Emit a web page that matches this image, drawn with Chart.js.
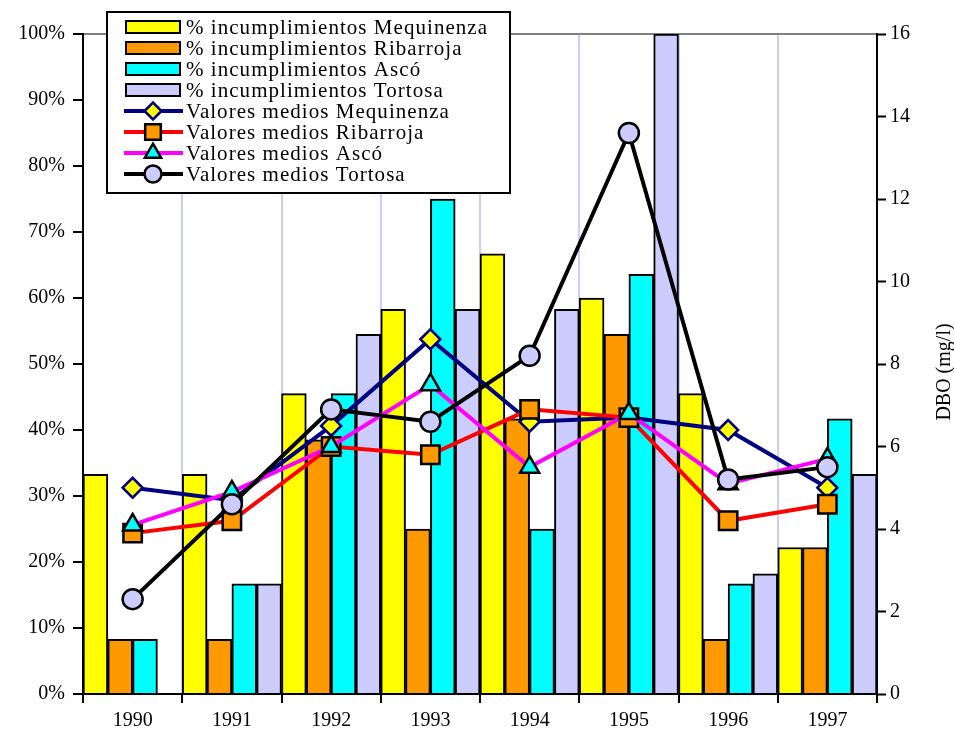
<!DOCTYPE html>
<html>
<head>
<meta charset="utf-8">
<script src="https://cdn.jsdelivr.net/npm/chart.js@4.4.1/dist/chart.umd.min.js"></script>
<style>
  html, body { margin: 0; padding: 0; background: #fff; }
  #wrap { width: 954px; height: 742px; }
</style>
</head>
<body>
<div id="wrap"><canvas id="chart"></canvas></div>
<script>
// Categorías (años)
const years = ['1990', '1991', '1992', '1993', '1994', '1995', '1996', '1997'];

// % incumplimientos (eje izquierdo)
const pctMequinenza = [33.3, 33.3, 45.5, 58.3, 66.7, 60.0, 45.5, 22.2];
const pctRibarroja  = [8.3, 8.3, 38.5, 25.0, 41.7, 54.5, 8.3, 22.2];
const pctAsco       = [8.3, 16.7, 45.5, 75.0, 25.0, 63.6, 16.7, 41.7];
const pctTortosa    = [0, 16.7, 54.5, 58.3, 58.3, 100, 18.2, 33.3];

// Valores medios DBO mg/l (eje derecho)
const dboMequinenza = [5.0, 4.7, 6.5, 8.6, 6.6, 6.7, 6.4, 5.0];
const dboRibarroja  = [3.9, 4.2, 6.0, 5.8, 6.9, 6.7, 4.2, 4.6];
const dboAsco       = [4.1, 4.9, 6.0, 7.5, 5.5, 6.8, 5.1, 5.7];
const dboTortosa    = [2.3, 4.6, 6.9, 6.6, 8.2, 13.6, 5.2, 5.5];

const FONT = 'Liberation Serif, Times New Roman, serif';

function barSet(label, data, color) {
    return {
        type: 'bar', label: label, data: data, yAxisID: 'y',
        backgroundColor: color, borderColor: '#000', borderWidth: 2,
        borderSkipped: 'start', barPercentage: 1, categoryPercentage: 1, order: 10
    };
}
function lineSet(label, data, color, style, fill, border, radius, order) {
    return {
        type: 'line', label: label, data: data, yAxisID: 'y1',
        borderColor: color, borderWidth: 4, tension: 0,
        pointStyle: style, pointRadius: radius, pointBackgroundColor: fill,
        pointBorderColor: border, pointBorderWidth: 2.5, order: order
    };
}

// Leyenda dibujada dentro del área del gráfico + título del eje derecho
const customLegend = {
    id: 'customLegend',
    afterDraw(chart) {
        const ctx = chart.ctx;
        const bx = 107, by = 12, bw = 403, bh = 181;
        ctx.save();
        ctx.fillStyle = '#fff';
        ctx.fillRect(bx, by, bw, bh);
        ctx.strokeStyle = '#000';
        ctx.lineWidth = 2;
        ctx.strokeRect(bx, by, bw, bh);

        ctx.font = '21px ' + FONT;
        ctx.textBaseline = 'middle';
        ctx.fillStyle = '#000';
        // espaciado de letras para ajustar al ancho del original
        const longest = '% incumplimientos Mequinenza';
        const w0 = ctx.measureText(longest).width;
        const sp = Math.max(0, (302 - w0) / longest.length);
        ctx.letterSpacing = sp.toFixed(2) + 'px';

        chart.data.datasets.forEach((ds, i) => {
            const cy = 27 + i * 21;
            if (ds.type === 'bar') {
                ctx.fillStyle = ds.backgroundColor;
                ctx.fillRect(126, cy - 6, 54, 12);
                ctx.strokeStyle = '#000';
                ctx.lineWidth = 2;
                ctx.strokeRect(126, cy - 6, 54, 12);
            } else {
                ctx.strokeStyle = ds.borderColor;
                ctx.lineWidth = 4;
                ctx.beginPath();
                ctx.moveTo(124, cy);
                ctx.lineTo(183, cy);
                ctx.stroke();
                ctx.fillStyle = ds.pointBackgroundColor;
                ctx.strokeStyle = ds.pointBorderColor;
                ctx.lineWidth = 2.5;
                ctx.beginPath();
                Chart.helpers.drawPoint(ctx, {
                    pointStyle: ds.pointStyle, radius: ds.pointRadius * 0.85,
                    borderWidth: 2.5, rotation: 0
                }, 153, cy);
            }
            ctx.fillStyle = '#000';
            ctx.textAlign = 'left';
            ctx.fillText(ds.label, 186, cy + 1);
        });

        // título eje derecho
        ctx.letterSpacing = '0px';
        ctx.font = '20px ' + FONT;
        ctx.translate(945, 372);
        ctx.rotate(-Math.PI / 2);
        ctx.textAlign = 'center';
        ctx.fillStyle = '#000';
        ctx.fillText('DBO (mg/l)', 0, 0);
        ctx.restore();
    }
};

const ctx = document.getElementById('chart').getContext('2d');
new Chart(ctx, {
    data: {
        labels: years,
        datasets: [
            barSet('% incumplimientos Mequinenza', pctMequinenza, '#FFFF00'),
            barSet('% incumplimientos Ribarroja', pctRibarroja, '#FF9900'),
            barSet('% incumplimientos Ascó', pctAsco, '#00FFFF'),
            barSet('% incumplimientos Tortosa', pctTortosa, '#CCCCFF'),
            lineSet('Valores medios Mequinenza', dboMequinenza, '#000080', 'rectRot', '#FFFF00', '#000080', 10, 4),
            lineSet('Valores medios Ribarroja', dboRibarroja, '#FF0000', 'rect', '#FF9900', '#000', 13, 3),
            lineSet('Valores medios Ascó', dboAsco, '#FF00FF', 'triangle', '#00FFFF', '#000', 11, 2),
            lineSet('Valores medios Tortosa', dboTortosa, '#000', 'circle', '#CCCCFF', '#000', 10, 1)
        ]
    },
    options: {
        responsive: true,
        maintainAspectRatio: false,
        animation: false,
        layout: { padding: { top: 34, left: 0, right: 0, bottom: 0 } },
        plugins: {
            legend: { display: false },
            tooltip: { enabled: false }
        },
        scales: {
            x: {
                offset: true,
                grid: {
                    offset: true,
                    color: '#CCCCFF',
                    lineWidth: 2,
                    tickColor: '#000',
                    tickLength: 9,
                    tickWidth: 2
                },
                border: { color: '#000', width: 2 },
                ticks: { color: '#000', font: { family: FONT, size: 20 }, padding: 6 },
                afterFit(scale) { scale.height = 48; }
            },
            y: {
                position: 'left',
                min: 0, max: 100,
                ticks: {
                    stepSize: 10,
                    color: '#000',
                    font: { family: FONT, size: 20 },
                    padding: 8,
                    callback: v => v + '%'
                },
                grid: {
                    drawOnChartArea: true,
                    color: c => c.tick && c.tick.value === 100 ? '#808080' : 'rgba(0,0,0,0)',
                    lineWidth: 2,
                    tickColor: '#000',
                    tickLength: 10,
                    tickWidth: 2
                },
                border: { color: '#000', width: 2 },
                afterFit(scale) { scale.width = 83; }
            },
            y1: {
                position: 'right',
                min: 0, max: 16,
                ticks: {
                    stepSize: 2,
                    color: '#000',
                    font: { family: FONT, size: 20 },
                    padding: 4
                },
                grid: {
                    drawOnChartArea: false,
                    tickColor: '#000',
                    tickLength: 9,
                    tickWidth: 2
                },
                border: { color: '#000', width: 2 },
                afterFit(scale) { scale.width = 77; }
            }
        }
    },
    plugins: [customLegend]
});
</script>
</body>
</html>
